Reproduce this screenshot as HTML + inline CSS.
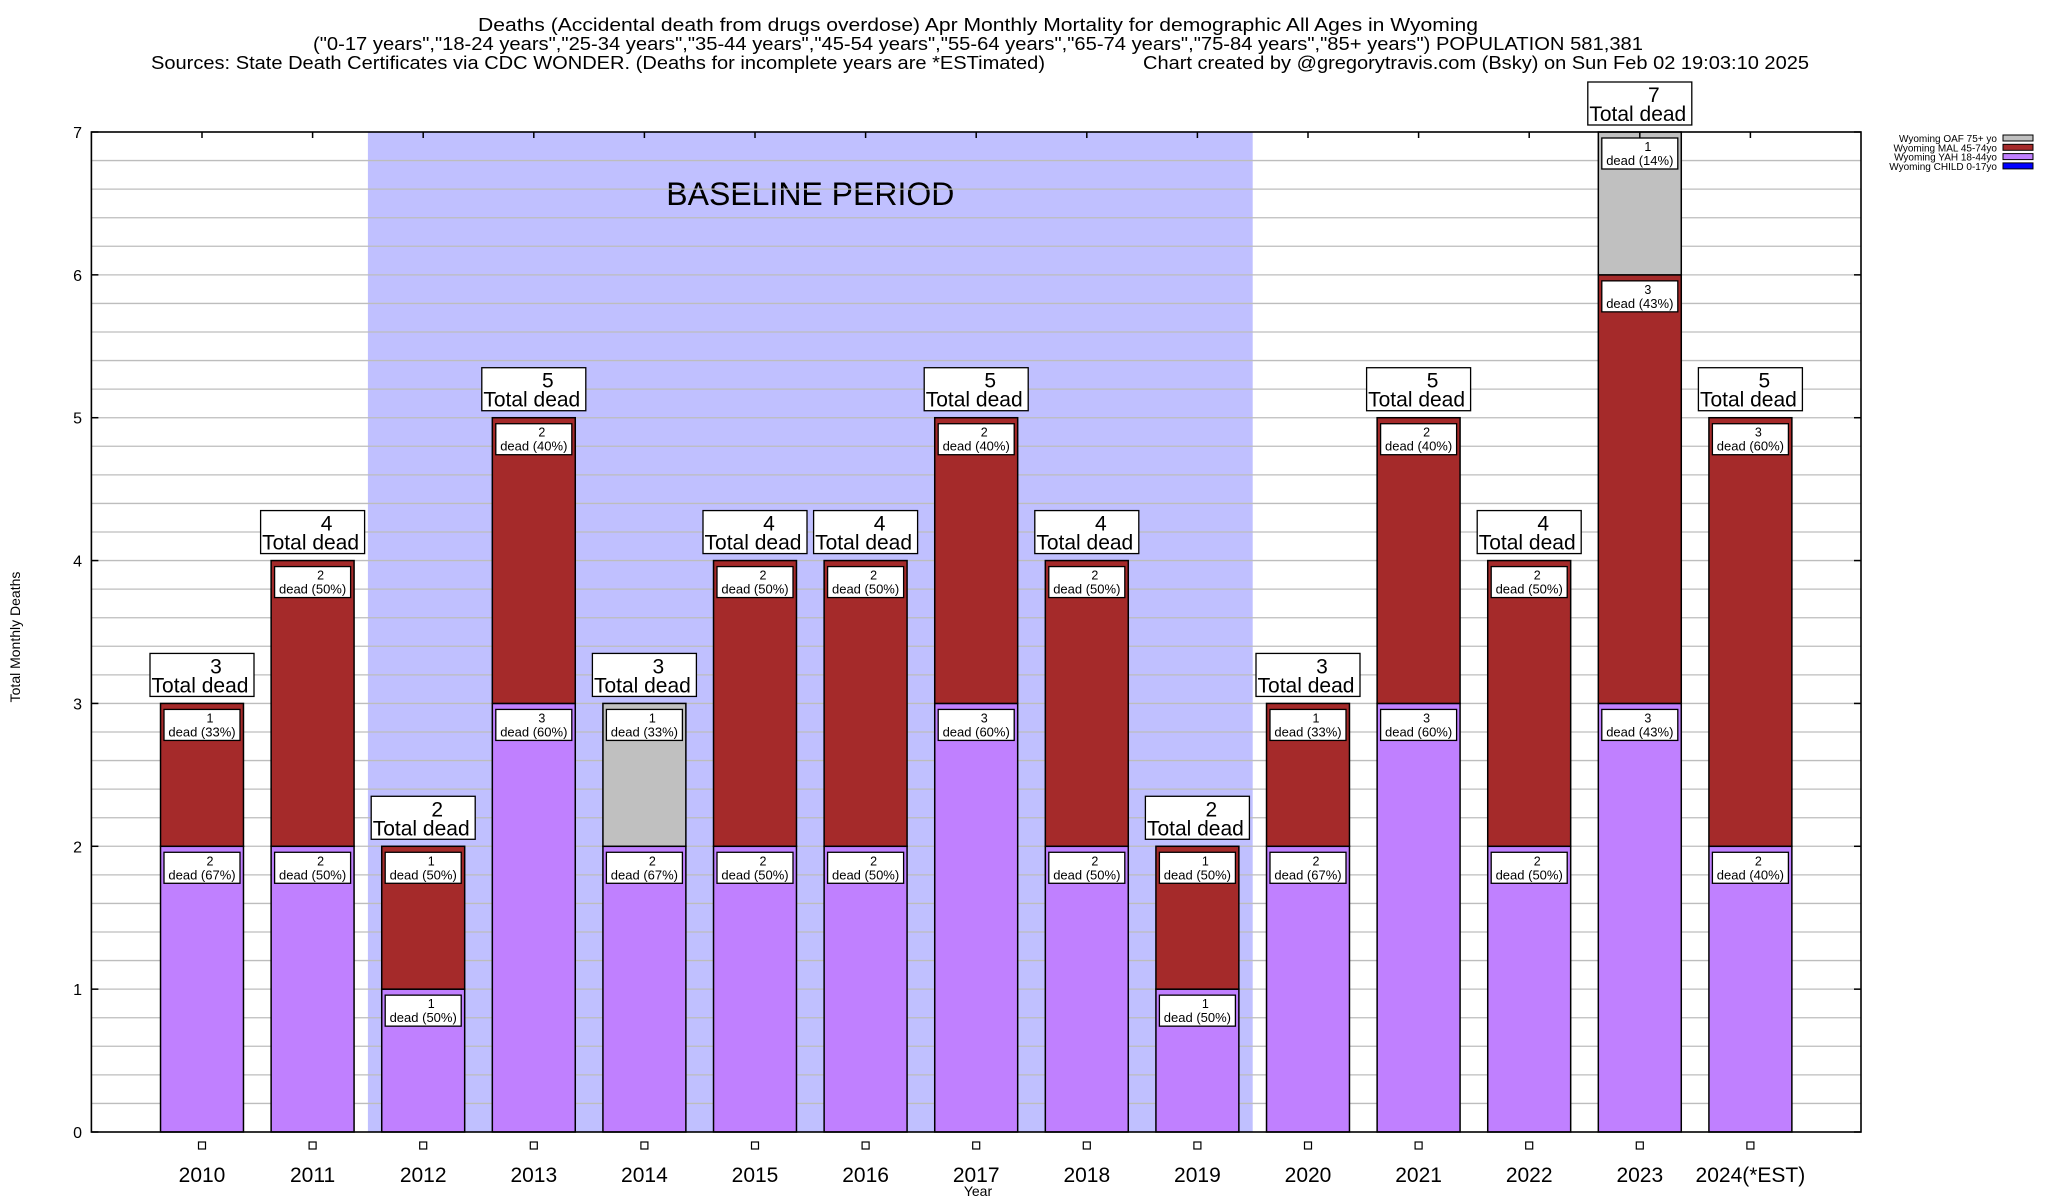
<!DOCTYPE html>
<html><head><meta charset="utf-8"><style>
html,body{margin:0;padding:0;background:#fff;}
svg{display:block;font-family:"Liberation Sans",sans-serif;}
</style></head><body>
<svg id="chart" width="2048" height="1200" viewBox="0 0 2048 1200" xmlns="http://www.w3.org/2000/svg">
<rect width="2048" height="1200" fill="#fff"/>
<g font-size="18" text-anchor="middle" fill="#000">
<text x="978" y="31" textLength="1000" lengthAdjust="spacingAndGlyphs">Deaths (Accidental death from drugs overdose) Apr Monthly Mortality for demographic All Ages in Wyoming</text>
<text x="978" y="50" textLength="1330" lengthAdjust="spacingAndGlyphs">("0-17 years","18-24 years","25-34 years","35-44 years","45-54 years","55-64 years","65-74 years","75-84 years","85+ years") POPULATION 581,381</text>
<text x="151" y="69" text-anchor="start" textLength="894" lengthAdjust="spacingAndGlyphs">Sources: State Death Certificates via CDC WONDER. (Deaths for incomplete years are *ESTimated)</text>
<text x="1809" y="69" text-anchor="end" textLength="666" lengthAdjust="spacingAndGlyphs">Chart created by @gregorytravis.com (Bsky) on Sun Feb 02 19:03:10 2025</text>
</g>
<g id="plot"></g>
</svg>
<script>
const categories=["2010","2011","2012","2013","2014","2015","2016","2017","2018","2019","2020","2021","2022","2023","2024(*EST)"];
const yahValues=[2,2,1,3,2,2,2,3,2,1,2,3,2,3,2];
const malValues=[1,2,1,2,0,2,2,2,2,1,1,2,2,3,3];
const oafValues=[0,0,0,0,1,0,0,0,0,0,0,0,0,1,0];
const yTicks=[0,1,2,3,4,5,6,7];
const baselineRange=[1.5,9.5];
const NS="http://www.w3.org/2000/svg";
const L=91.4,R=1861,T=132,B=1132,yMax=7;
const unit=(R-L)/16;
function xs(i){return L+(i+1)*unit;}
function ys(v){return B-(v/yMax)*(B-T);}
const g=document.getElementById('plot');
function el(tag,attrs,parent,text){const e=document.createElementNS(NS,tag);for(const k in attrs)e.setAttribute(k,attrs[k]);if(text!==undefined)e.textContent=text;(parent||g).appendChild(e);return e;}
const sh=el('rect',{x:xs(baselineRange[0]),y:T,width:xs(baselineRange[1])-xs(baselineRange[0]),height:B-T,fill:'#c0c0ff'});


const bt=el('text',{x:(xs(baselineRange[0])+xs(baselineRange[1]))/2,y:205,'font-size':32,'text-anchor':'middle'},g,'BASELINE PERIOD');


for(let v=0.2;v<yMax-0.01;v+=0.2){
  const gl=el('line',{x1:L,x2:R,y1:ys(v),y2:ys(v),stroke:'#bdbdbd','stroke-width':1.3});
  
  
}
yTicks.forEach(t=>{
  const tl=el('text',{x:82,y:ys(t)+6,'font-size':16,'text-anchor':'end'},g,String(t));
  
  
  el('line',{x1:L,x2:L+7,y1:ys(t),y2:ys(t),stroke:'#000','stroke-width':1.5});
  el('line',{x1:R-7,x2:R,y1:ys(t),y2:ys(t),stroke:'#000','stroke-width':1.5});
});
const bw=unit*0.75;
function segLabel(cx,yTop,n,pct){
  const lg=el('g',{});
  
  
  el('rect',{x:cx-38,y:yTop+6,width:76,height:31,fill:'#fff',stroke:'#000','stroke-width':1.3},lg);
  el('text',{x:cx+8,y:yTop+19,'font-size':12.5,'text-anchor':'middle'},lg,String(n));
  el('text',{x:cx,y:yTop+33,'font-size':13,'text-anchor':'middle'},lg,'dead ('+pct+'%)');
}
categories.forEach((c,i)=>{
  const cx=xs(i);
  const tot=yahValues[i]+malValues[i]+oafValues[i];
  const segs=[[yahValues[i],'#c080ff','bar-yah-'],[malValues[i],'#a52a2a','bar-mal-'],[oafValues[i],'#c0c0c0','bar-oaf-']];
  let base=0;
  segs.forEach(s=>{
    if(s[0]<=0)return;
    const r=el('rect',{x:cx-bw/2,y:ys(base+s[0]),width:bw,height:ys(base)-ys(base+s[0]),fill:s[1],stroke:'#000','stroke-width':1.5});
    
    
    base+=s[0];
  });
  base=0;
  segs.forEach(s=>{
    if(s[0]<=0)return;
    segLabel(cx,ys(base+s[0]),s[0],Math.round(s[0]/tot*100));
    base+=s[0];
  });
  const tg=el('g',{});
  
  
  const ty=ys(tot);
  el('rect',{x:cx-52,y:ty-50,width:104,height:43,fill:'#fff',stroke:'#000','stroke-width':1.3},tg);
  el('text',{x:cx+14,y:ty-30,'font-size':21,'text-anchor':'middle'},tg,String(tot));
  el('text',{x:cx-2,y:ty-11,'font-size':21,'text-anchor':'middle'},tg,'Total dead');
  const xl=el('text',{x:cx,y:1182,'font-size':21,'text-anchor':'middle'},g,c);
  
  
  el('rect',{x:cx-3.5,y:1142,width:7,height:7,fill:'#fff',stroke:'#000','stroke-width':1.2});
  el('line',{x1:cx,x2:cx,y1:T,y2:T+6,stroke:'#000','stroke-width':1.5});
});
const fr=el('rect',{x:L,y:T,width:R-L,height:B-T,fill:'none',stroke:'#000','stroke-width':1.6});


const yt=el('text',{x:0,y:0,'font-size':14,'text-anchor':'middle',transform:'translate(20,637) rotate(-90)'},g,'Total Monthly Deaths');


const xt=el('text',{x:978,y:1196,'font-size':14,'text-anchor':'middle'},g,'Year');


const legendNames=["Wyoming OAF 75+ yo","Wyoming MAL 45-74yo","Wyoming YAH 18-44yo","Wyoming CHILD 0-17yo"];
const legendColors=['#c0c0c0','#a52a2a','#c080ff','#0000ff'];
legendNames.forEach((n,k)=>{
  const lg=el('g',{});
  
  
  el('text',{x:1997,y:142+k*9.3,'font-size':10,'text-anchor':'end'},lg,n);
  el('rect',{x:2003,y:135+k*9.3,width:30,height:6,fill:legendColors[k],stroke:'#000','stroke-width':1});
});
</script>
</body></html>
